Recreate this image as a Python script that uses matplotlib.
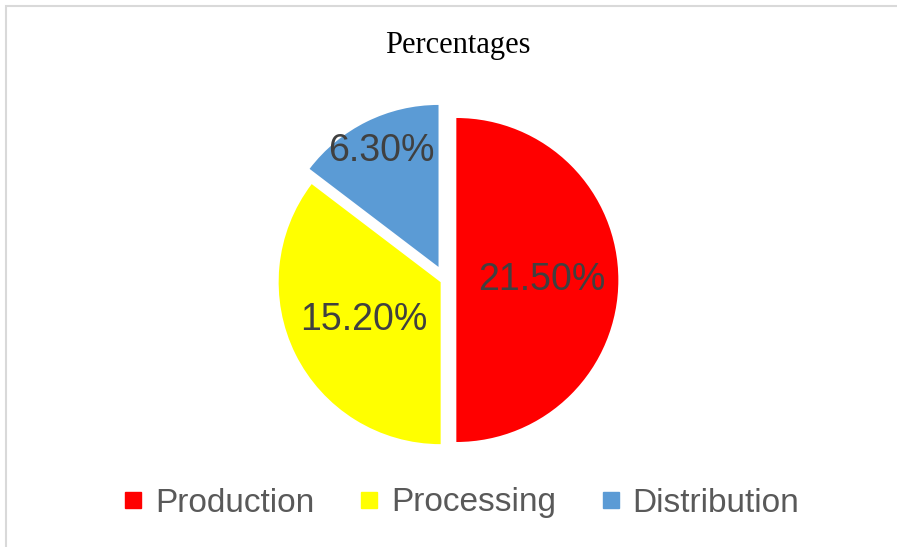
import matplotlib
matplotlib.use("Agg")
import matplotlib.pyplot as plt
from matplotlib.lines import Line2D
from matplotlib.patches import Rectangle
import numpy as np

# data
categories = ["Production", "Processing", "Distribution"]
values = [21.50, 15.20, 6.30]
colors = ["#ff0000", "#ffff00", "#5b9bd5"]
explode = [0.07, 0.03, 0.09]

W, H = 897, 547
fig = plt.figure(figsize=(W / 100, H / 100), dpi=100)

# light gray chart frame
fig.patches.append(Rectangle((6 / W, -0.02), 1.05, 1 - 6 / H + 0.02,
                             transform=fig.transFigure, fill=False,
                             edgecolor="#d9d9d9", linewidth=1.5))

fig.text(0.51, 1 - 46 / H, "Percentages", ha="center", va="center",
         family="Liberation Serif", fontsize=22, color="black")

# pie axes: centre (445, 280) px, radius 162 px
cx, cy, r, half = 445, 280, 162, 200
ax = fig.add_axes([(cx - half) / W, (H - cy - half) / H, 2 * half / W, 2 * half / H])
wedges, texts, autotexts = ax.pie(
    values, colors=colors, explode=explode, startangle=90, counterclock=False,
    autopct=lambda p: "", pctdistance=0.53, radius=1,
    wedgeprops=dict(linewidth=0))
lim = half / r
ax.set_xlim(-lim, lim)
ax.set_ylim(-lim, lim)
ax.set_aspect("equal")
ax.axis("off")

label_dist = [0.53, 0.53, 0.80]
for w, v, d in zip(wedges, values, label_dist):
    mid = np.deg2rad((w.theta1 + w.theta2) / 2)
    x = w.center[0] + d * np.cos(mid)
    y = w.center[1] + d * np.sin(mid)
    ax.text(x, y, f"{v:.2f}%", ha="center", va="center",
            family="Liberation Sans", fontsize=27, color="#404040")

handles = [Line2D([], [], marker="s", linestyle="none", markersize=11,
                  markerfacecolor=c, markeredgecolor=c) for c in colors]
fig.legend(handles, categories, loc="center", bbox_to_anchor=(462 / W, 1 - 503 / H),
           ncol=3, frameon=False, handlelength=0.5, handletextpad=0.4,
           columnspacing=1.4, prop=dict(family="Liberation Sans", size=24),
           labelcolor="#595959")

fig.savefig("out.png", dpi=100)
